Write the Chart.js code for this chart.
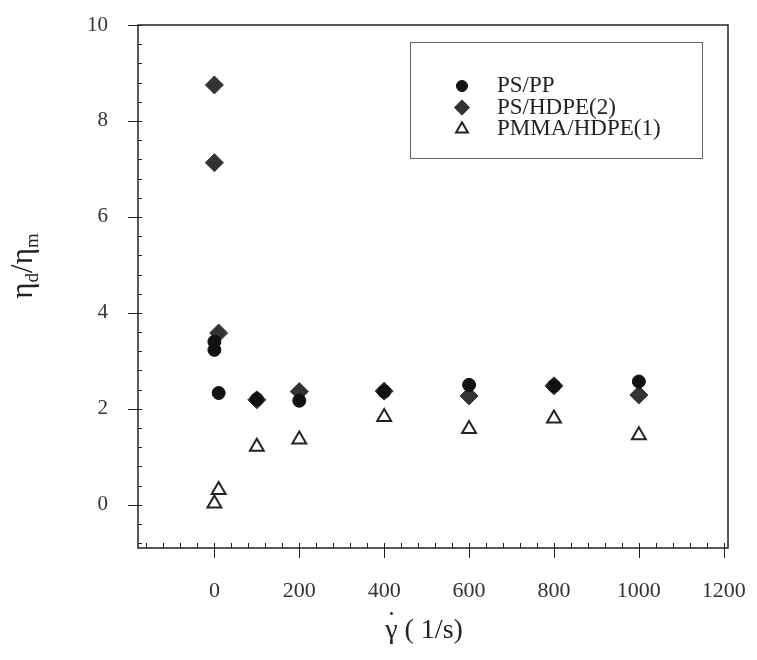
<!DOCTYPE html>
<html>
<head>
<meta charset="utf-8">
<script src="https://cdn.jsdelivr.net/npm/chart.js@4.4.0/dist/chart.umd.min.js"></script>
<style>
  html, body { margin: 0; padding: 0; background: #fff; }
  #wrap { width: 757px; height: 660px; }
</style>
</head>
<body>
<div id="wrap"><canvas id="grafico" width="757" height="660"></canvas></div>
<script>
// datos
const series = ['PS/PP', 'PS/HDPE(2)', 'PMMA/HDPE(1)'];

const ppX = [0, 0, 10, 100, 200, 400, 600, 800, 1000];
const ppY = [3.40, 3.23, 2.33, 2.20, 2.17, 2.36, 2.50, 2.48, 2.57];

const hdpe2X = [0, 0, 10, 100, 200, 400, 600, 800, 1000];
const hdpe2Y = [8.75, 7.13, 3.58, 2.19, 2.36, 2.37, 2.27, 2.48, 2.29];

const pmmaX = [0, 10, 100, 200, 400, 600, 800, 1000];
const pmmaY = [0.03, 0.31, 1.21, 1.36, 1.83, 1.58, 1.80, 1.45];

const xTicks = [0, 200, 400, 600, 800, 1000, 1200];
const yTicks = [0, 2, 4, 6, 8, 10];

const puntos = (xs, ys) => xs.map((x, i) => ({ x: x, y: ys[i] }));

const fuente = "'Liberation Serif', 'Times New Roman', serif";

const estilos = [
    { pointStyle: 'circle', radius: 6.5, bg: '#111', border: '#111', bw: 1 },
    { pointStyle: 'rectRot', radius: 9, bg: '#333', border: '#333', bw: 1 },
    { pointStyle: 'triangle', radius: 8, bg: '#fff', border: '#222', bw: 2 }
];

// marco, marcas de ejes, leyenda y titulos de ejes
const marcoPlugin = {
    id: 'marco',
    afterDraw(chart) {
        const ctx = chart.ctx;
        const a = chart.chartArea;
        const sx = chart.scales.x;
        const sy = chart.scales.y;
        ctx.save();
        ctx.strokeStyle = '#222';
        ctx.lineWidth = 1.5;
        ctx.strokeRect(a.left, a.top, a.right - a.left, a.bottom - a.top);

        ctx.lineWidth = 1;
        ctx.beginPath();
        yTicks.forEach(v => {
            const py = Math.round(sy.getPixelForValue(v)) + 0.5;
            ctx.moveTo(a.left - 10, py);
            ctx.lineTo(a.left, py);
        });
        for (let k = -2; k <= 25; k++) {
            const py = Math.round(sy.getPixelForValue(k * 0.4)) + 0.5;
            if (py < a.top || py > a.bottom) continue;
            ctx.moveTo(a.left, py);
            ctx.lineTo(a.left + 4, py);
        }
        xTicks.forEach(v => {
            const px = Math.round(sx.getPixelForValue(v)) + 0.5;
            ctx.moveTo(px, a.bottom);
            ctx.lineTo(px, a.bottom + 10);
        });
        for (let k = -4; k <= 30; k++) {
            const px = Math.round(sx.getPixelForValue(k * 40)) + 0.5;
            if (px <= a.left || px >= a.right) continue;
            ctx.moveTo(px, a.bottom);
            ctx.lineTo(px, a.bottom - 5);
        }
        ctx.stroke();

        // leyenda
        ctx.strokeStyle = '#666';
        ctx.lineWidth = 1;
        ctx.strokeRect(410.5, 42.5, 292, 116);
        ctx.font = '23px ' + fuente;
        ctx.textBaseline = 'middle';
        ctx.textAlign = 'left';
        series.forEach((nombre, i) => {
            const e = estilos[i];
            const yy = 86 + i * 21.5;
            ctx.fillStyle = e.bg;
            ctx.strokeStyle = e.border;
            ctx.lineWidth = e.bw;
            Chart.helpers.drawPoint(ctx, {
                pointStyle: e.pointStyle,
                radius: e.radius * 0.85,
                rotation: 0,
                borderWidth: e.bw
            }, 462, yy);
            ctx.fillStyle = '#222';
            ctx.fillText(nombre, 497, yy);
        });

        // titulo eje x: gamma con punto
        ctx.fillStyle = '#222';
        ctx.textBaseline = 'alphabetic';
        ctx.font = '28px ' + fuente;
        const gam = 'γ';
        const resto = ' ( 1/s)';
        const wg = ctx.measureText(gam).width;
        const wr = ctx.measureText(resto).width;
        const x0 = 424 - (wg + wr) / 2;
        ctx.fillText(gam, x0, 638);
        ctx.fillText(resto, x0 + wg, 638);
        ctx.textAlign = 'center';
        ctx.fillText('˙', x0 + wg / 2, 630);
        ctx.textAlign = 'left';

        // titulo eje y con subindices
        ctx.translate(30, 266);
        ctx.rotate(-Math.PI / 2);
        const grande = '31px ' + fuente;
        const chico = '19px ' + fuente;
        const partes = [['η', grande, 0], ['d', chico, 6], ['/η', grande, 0], ['m', chico, 6]];
        let ancho = 0;
        partes.forEach(p => { ctx.font = p[1]; ancho += ctx.measureText(p[0]).width; });
        let cx = -ancho / 2;
        partes.forEach(p => {
            ctx.font = p[1];
            ctx.fillText(p[0], cx, 2 + p[2]);
            cx += ctx.measureText(p[0]).width;
        });
        ctx.restore();
    }
};

const ctx = document.getElementById('grafico').getContext('2d');
const chart = new Chart(ctx, {
    type: 'scatter',
    data: {
        datasets: [
            { label: series[0], data: puntos(ppX, ppY) },
            { label: series[1], data: puntos(hdpe2X, hdpe2Y) },
            { label: series[2], data: puntos(pmmaX, pmmaY) }
        ].map((d, i) => Object.assign(d, {
            pointStyle: estilos[i].pointStyle,
            pointRadius: estilos[i].radius,
            backgroundColor: estilos[i].bg,
            borderColor: estilos[i].border,
            borderWidth: estilos[i].bw
        }))
    },
    options: {
        responsive: false,
        animation: false,
        events: [],
        devicePixelRatio: 1,
        layout: { padding: { top: 25, right: 29, left: 0, bottom: 0 } },
        plugins: {
            legend: { display: false },
            tooltip: { enabled: false }
        },
        scales: {
            x: {
                type: 'linear',
                min: -180,
                max: 1210,
                grid: { display: false },
                border: { display: false },
                afterBuildTicks: s => { s.ticks = xTicks.map(v => ({ value: v })); },
                afterFit: s => { s.height = 112; s.paddingLeft = 0; s.paddingRight = 0; },
                ticks: {
                    font: { family: fuente, size: 22 },
                    color: '#333',
                    padding: 22,
                    maxRotation: 0,
                    callback: v => String(v)
                }
            },
            y: {
                type: 'linear',
                min: -0.9,
                max: 10,
                grid: { display: false },
                border: { display: false },
                afterBuildTicks: s => { s.ticks = yTicks.map(v => ({ value: v })); },
                afterFit: s => { s.width = 138; s.paddingTop = 0; s.paddingBottom = 0; },
                ticks: {
                    font: { family: fuente, size: 21 },
                    color: '#333',
                    padding: 22,
                    callback: v => String(v)
                }
            }
        }
    },
    plugins: [marcoPlugin]
});
</script>
</body>
</html>
